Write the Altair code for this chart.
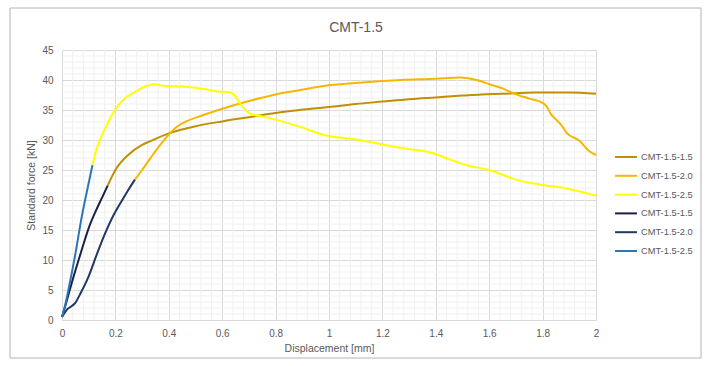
import altair as alt
import pandas as pd

# ---- data ----
chart_title = "CMT-1.5"
series_names = ["CMT-1.5-1.5", "CMT-1.5-2.0", "CMT-1.5-2.5",
                "CMT-1.5-1.5 ", "CMT-1.5-2.0 ", "CMT-1.5-2.5 "]
series_colors = ["#BF9000", "#F5B800", "#FFFF00", "#1B2240", "#203864", "#2E75B6"]

# plastic parts (gold/yellow)
x_g15 = [0.171, 0.20, 0.25, 0.30, 0.33, 0.40, 0.50, 0.60, 0.70, 0.80, 0.89, 1.00, 1.10, 1.20, 1.30, 1.40, 1.50, 1.57, 1.65, 1.77, 1.90, 2.00]
y_g15 = [22.4, 25.0, 27.6, 29.2, 29.8, 31.1, 32.3, 33.1, 33.8, 34.5, 35.0, 35.5, 36.0, 36.4, 36.8, 37.1, 37.4, 37.6, 37.7, 37.9, 37.9, 37.7]

x_g20 = [0.273, 0.30, 0.33, 0.37, 0.40, 0.43, 0.47, 0.52, 0.60, 0.70, 0.80, 0.89, 0.98, 1.10, 1.27, 1.40, 1.49, 1.52, 1.57, 1.60, 1.65, 1.69, 1.75, 1.80, 1.815, 1.83, 1.846, 1.87, 1.89, 1.94, 1.97, 2.00]
y_g20 = [23.4, 25.0, 26.9, 29.3, 30.9, 32.2, 33.2, 34.0, 35.2, 36.5, 37.6, 38.3, 39.0, 39.5, 40.0, 40.2, 40.4, 40.3, 39.8, 39.3, 38.6, 37.8, 36.9, 36.2, 35.6, 34.4, 33.6, 32.5, 31.2, 29.8, 28.3, 27.5]

x_g25 = [0.114, 0.13, 0.15, 0.167, 0.19, 0.211, 0.24, 0.273, 0.31, 0.348, 0.37, 0.45, 0.517, 0.58, 0.63, 0.645, 0.667, 0.69, 0.704, 0.754, 0.80, 0.891, 0.985, 1.10, 1.266, 1.39, 1.45, 1.516, 1.60, 1.70, 1.80, 1.89, 2.00]
y_g25 = [25.8, 28.6, 30.8, 32.4, 34.4, 35.8, 37.1, 38.0, 38.9, 39.3, 39.1, 38.9, 38.6, 38.1, 37.9, 37.5, 36.1, 34.9, 34.4, 33.9, 33.4, 32.2, 30.8, 30.1, 28.7, 27.8, 26.8, 25.8, 25.0, 23.4, 22.5, 21.9, 20.7]

# elastic parts (dark/blue)
x_d15 = [0.0, 0.01, 0.036, 0.074, 0.099, 0.13, 0.15, 0.171]
y_d15 = [0.5, 2.0, 6.1, 11.7, 15.2, 18.5, 20.4, 22.4]

x_d20 = [0.0, 0.02, 0.049, 0.07, 0.099, 0.13, 0.161, 0.19, 0.223, 0.25, 0.273]
y_d20 = [0.5, 1.8, 2.8, 4.5, 7.2, 10.9, 14.4, 17.2, 19.8, 21.8, 23.4]

x_d25 = [0.0, 0.012, 0.024, 0.05, 0.074, 0.095, 0.114]
y_d25 = [0.5, 2.5, 5.0, 11.0, 17.2, 21.8, 25.8]

major_x = [0, 0.2, 0.4, 0.6, 0.8, 1, 1.2, 1.4, 1.6, 1.8, 2]
major_y = [0, 5, 10, 15, 20, 25, 30, 35, 40, 45]
minor_x = [round(i * 0.04, 2) for i in range(51) if i % 5 != 0]
minor_y = [i for i in range(46) if i % 5 != 0]

# ---- build table ----
rows = []
for name, xs, ys in [(series_names[0], x_g15, y_g15), (series_names[1], x_g20, y_g20),
                     (series_names[2], x_g25, y_g25), (series_names[3], x_d15, y_d15),
                     (series_names[4], x_d20, y_d20), (series_names[5], x_d25, y_d25)]:
    for i, (xv, yv) in enumerate(zip(xs, ys)):
        rows.append({"series": name, "x": xv, "y": yv, "i": i})
df = pd.DataFrame(rows)

FONT = "Liberation Sans"
GREY = "#595959"

xscale = alt.Scale(domain=[0, 2], nice=False, zero=False)
yscale = alt.Scale(domain=[0, 45], nice=False)

x_axis = alt.Axis(values=major_x, format="~g", title="Displacement [mm]", grid=True,
                  gridColor="#D9D9D9", domain=False, ticks=False,
                  labelPadding=8, labelFontSize=10, labelColor=GREY,
                  labelFont=FONT, titleFont=FONT,
                  titleFontSize=10.5, titleFontWeight="normal", titleColor=GREY,
                  titlePadding=5, labelFlush=False, labelOverlap=False)
y_axis = alt.Axis(values=major_y, format="~g", title="Standard force [kN]", grid=True,
                  gridColor="#D9D9D9", domain=False, ticks=False,
                  labelPadding=9, labelFontSize=10, labelColor=GREY,
                  labelFont=FONT, titleFont=FONT,
                  titleFontSize=10.5, titleFontWeight="normal", titleColor=GREY,
                  titlePadding=5, labelFlush=False, labelOverlap=False)

minor_v = alt.Chart(pd.DataFrame({"x": minor_x})).mark_rule(color="#F0F0F0", strokeWidth=1).encode(
    x=alt.X("x:Q", scale=xscale, axis=x_axis))
minor_h = alt.Chart(pd.DataFrame({"y": minor_y})).mark_rule(color="#F0F0F0", strokeWidth=1).encode(
    y=alt.Y("y:Q", scale=yscale, axis=y_axis))

border = alt.Chart(pd.DataFrame({"a": [0]})).mark_rect(
    fill=None, stroke="#B4B4B4", strokeWidth=1).encode(
    x=alt.value(-52), x2=alt.value(639), y=alt.value(-42), y2=alt.value(308))

title = alt.Chart(pd.DataFrame({"t": [chart_title]})).mark_text(
    font=FONT, fontSize=14, color=GREY, align="center", baseline="middle").encode(
    text="t:N", x=alt.value(294), y=alt.value(-22))

lines = alt.Chart(df).mark_line(strokeWidth=2, interpolate="monotone").encode(
    x=alt.X("x:Q", scale=xscale, axis=x_axis),
    y=alt.Y("y:Q", scale=yscale, axis=y_axis),
    color=alt.Color("series:N",
                    scale=alt.Scale(domain=series_names, range=series_colors),
                    legend=alt.Legend(title=None, orient="none", legendX=552, legendY=95,
                                      symbolType="stroke", symbolStrokeWidth=2,
                                      symbolSize=480, labelFontSize=9.3,
                                      labelColor=GREY, labelFont=FONT,
                                      labelOffset=3, rowPadding=0.8)),
    detail="series:N",
    order="i:Q",
)

chart = alt.layer(border, title, minor_v, minor_h, lines).properties(
    width=534, height=270,
    autosize=alt.AutoSizeParams(type="none"),
    padding={"left": 62, "top": 50, "right": 114, "bottom": 46},
).configure_view(stroke="#D9D9D9", strokeWidth=1).configure(background="white")

chart.save("out.html", embed_options={"renderer": "svg", "actions": False})
